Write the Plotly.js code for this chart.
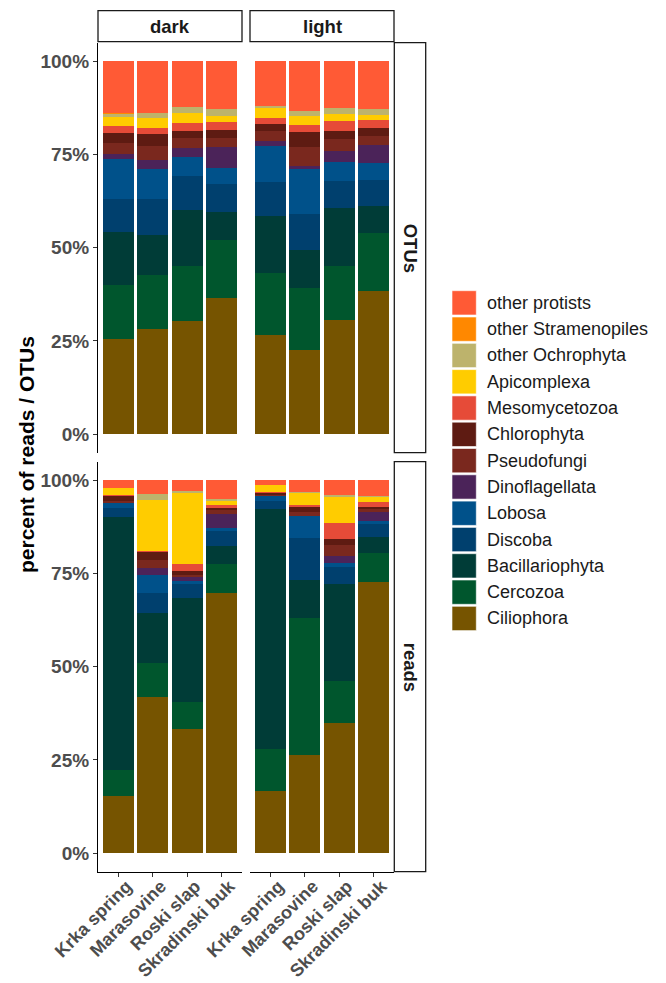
<!DOCTYPE html>
<html>
<head>
<meta charset="utf-8">
<script src="https://cdn.plot.ly/plotly-3.0.1.min.js"></script>
<style>html,body{margin:0;padding:0;background:#fff;}#chart{width:666px;height:983px;}</style>
</head>
<body>
<div id="chart"></div>
<script>
// Sites (x categories)
const sites = ['Krka spring', 'Marasovine', 'Roski slap', 'Skradinski buk'];
// Taxa, stacked bottom -> top
const taxa = ['Ciliophora', 'Cercozoa', 'Bacillariophyta', 'Discoba', 'Lobosa', 'Dinoflagellata',
  'Pseudofungi', 'Chlorophyta', 'Mesomycetozoa', 'Apicomplexa', 'other Ochrophyta',
  'other Stramenopiles', 'other protists'];
const taxaColors = ['#765400', '#00562D', '#003C37', '#00406E', '#00518A', '#4B2359',
  '#7A281E', '#5E1B12', '#E64B38', '#FFCC00', '#BDB36C', '#FF8800', '#FF5A35'];
const facetCols = ['dark', 'light'];
const facetRows = ['OTUs', 'reads'];
const yTicks = [0, 25, 50, 75, 100];

// percent values, rows = taxa (bottom -> top), columns = sites
const otusDark = [
  [25.5, 28.2, 30.3, 36.5],
  [14.4, 14.6, 14.8, 15.7],
  [14.3, 10.6, 15.0, 7.3],
  [8.8, 9.6, 9.2, 7.6],
  [10.7, 8.0, 5.0, 4.2],
  [1.4, 2.5, 2.4, 5.6],
  [3.0, 3.8, 2.6, 2.6],
  [2.8, 3.2, 1.9, 2.0],
  [1.7, 1.7, 2.3, 2.2],
  [2.5, 2.5, 2.6, 1.6],
  [0.9, 1.4, 1.6, 1.8],
  [0.1, 0.1, 0.1, 0.1],
  [13.9, 13.8, 12.2, 12.8]
];
const otusLight = [
  [26.5, 22.6, 30.7, 38.4],
  [16.8, 16.5, 14.3, 15.6],
  [15.1, 10.3, 15.6, 7.3],
  [9.1, 9.7, 7.3, 6.9],
  [9.7, 11.9, 5.2, 4.4],
  [1.5, 1.0, 2.8, 4.9],
  [2.6, 5.0, 3.3, 2.5],
  [2.0, 4.1, 2.2, 2.1],
  [1.5, 1.7, 2.5, 2.2],
  [2.7, 2.6, 2.1, 1.2],
  [0.5, 1.3, 1.4, 1.6],
  [0.1, 0.1, 0.1, 0.1],
  [11.9, 13.2, 12.5, 12.8]
];
const readsDark = [
  [15.4, 41.9, 33.3, 69.7],
  [6.9, 9.1, 7.1, 7.9],
  [67.9, 13.4, 28.1, 4.7],
  [2.4, 5.5, 3.6, 4.0],
  [1.2, 4.6, 1.0, 0.8],
  [0.2, 2.0, 0.9, 3.8],
  [0.4, 2.2, 0.6, 1.2],
  [1.4, 2.1, 1.1, 0.4],
  [0.4, 0.3, 1.8, 0.9],
  [1.8, 13.6, 19.0, 1.1],
  [0.0, 1.7, 0.6, 0.6],
  [0.0, 0.0, 0.0, 0.0],
  [2.0, 3.6, 2.9, 4.9]
];
const readsLight = [
  [16.7, 26.3, 34.9, 72.6],
  [11.2, 36.9, 11.2, 7.9],
  [64.3, 10.0, 26.0, 4.2],
  [2.2, 11.3, 4.6, 3.7],
  [1.3, 5.9, 1.1, 0.8],
  [0.1, 0.1, 1.8, 2.3],
  [0.4, 1.1, 3.1, 0.8],
  [0.4, 1.3, 1.6, 0.6],
  [0.2, 0.4, 4.2, 1.3],
  [2.0, 3.4, 7.1, 1.2],
  [0.0, 0.1, 0.5, 0.5],
  [0.0, 0.0, 0.0, 0.0],
  [1.2, 3.2, 3.9, 4.1]
];

// ---- layout geometry (pixels) ----
const W = 666, H = 983;
const px = v => v / W;
const py = v => 1 - v / H;
const colX = [[98, 242], [250, 394]];
const rowY = [[42.7, 452.7], [461.7, 871.7]];

const panels = [
  {data: otusDark, xa: 'x', ya: 'y'},
  {data: otusLight, xa: 'x2', ya: 'y'},
  {data: readsDark, xa: 'x', ya: 'y2'},
  {data: readsLight, xa: 'x2', ya: 'y2'}
];

const traces = [];
panels.forEach((p, pi) => {
  taxa.forEach((t, ti) => {
    traces.push({
      type: 'bar',
      name: t,
      x: sites,
      y: p.data[ti],
      xaxis: p.xa,
      yaxis: p.ya,
      marker: {color: taxaColors[ti], line: {width: 0}},
      showlegend: false,
      hovertemplate: t + ': %{y}%<extra></extra>'
    });
  });
});

const FAM = 'Liberation Sans, Arial, sans-serif';
const yTickFont = {family: FAM, size: 19, color: '#4D4D4D', weight: 'bold'};
const xTickFont = {family: FAM, size: 18, color: '#4D4D4D', weight: 'bold'};

function xAxis(ci) {
  return {
    domain: [px(colX[ci][0]), px(colX[ci][1])],
    anchor: 'y2',
    type: 'category',
    categoryorder: 'array',
    categoryarray: sites,
    range: [-0.6, 3.6],
    showgrid: false,
    zeroline: false,
    showline: true,
    linecolor: '#000',
    linewidth: 1.1,
    ticks: 'outside',
    ticklen: 4,
    tickwidth: 1.1,
    tickcolor: '#333',
    tickangle: -45,
    tickfont: xTickFont,
    ticklabelshift: 8,
    ticklabelstandoff: -8,
    fixedrange: true
  };
}
function yAxis(ri) {
  return {
    domain: [py(rowY[ri][1]), py(rowY[ri][0])],
    anchor: 'x',
    range: [-5, 105],
    tickvals: yTicks,
    ticktext: yTicks.map(v => v + '%'),
    showgrid: false,
    zeroline: false,
    showline: true,
    linecolor: '#000',
    linewidth: 1.1,
    ticks: 'outside',
    ticklen: 4,
    tickwidth: 1.1,
    tickcolor: '#333',
    tickfont: yTickFont,
    fixedrange: true
  };
}

const shapes = [];
const annotations = [];
const stripFont = {family: FAM, size: 18.5, color: '#1A1A1A', weight: 'bold'};

// top strips
facetCols.forEach((c, ci) => {
  shapes.push({type: 'rect', xref: 'paper', yref: 'paper',
    x0: px(colX[ci][0]), x1: px(colX[ci][1]), y0: py(41.7), y1: py(10.7),
    line: {color: '#1A1A1A', width: 1.3}, fillcolor: '#fff'});
  annotations.push({xref: 'paper', yref: 'paper', x: px((colX[ci][0] + colX[ci][1]) / 2), y: py(26.2),
    text: c, showarrow: false, xanchor: 'center', yanchor: 'middle', font: stripFont});
});
// right strips
facetRows.forEach((r, ri) => {
  shapes.push({type: 'rect', xref: 'paper', yref: 'paper',
    x0: px(394.3), x1: px(425.7), y0: py(rowY[ri][1]), y1: py(rowY[ri][0]),
    line: {color: '#1A1A1A', width: 1.3}, fillcolor: '#fff'});
  annotations.push({xref: 'paper', yref: 'paper', x: px(410), y: py((rowY[ri][0] + rowY[ri][1]) / 2),
    text: r, showarrow: false, textangle: 90, xanchor: 'center', yanchor: 'middle', font: stripFont});
});
// y-axis title
annotations.push({xref: 'paper', yref: 'paper', x: px(26), y: py(455),
  text: 'percent of reads / OTUs', showarrow: false, textangle: -90,
  xanchor: 'center', yanchor: 'middle',
  font: {family: FAM, size: 21, color: '#000', weight: 'bold'}});

// legend (top entry = last taxon)
const legTop = 290.7, legStep = 26.3, keySize = 24.3, keyX = 452;
for (let i = 0; i < taxa.length; i++) {
  const ti = taxa.length - 1 - i;
  const y0 = legTop + i * legStep;
  shapes.push({type: 'rect', xref: 'paper', yref: 'paper',
    x0: px(keyX), x1: px(keyX + keySize), y0: py(y0 + keySize), y1: py(y0),
    line: {color: '#fff', width: 0.6}, fillcolor: taxaColors[ti]});
  annotations.push({xref: 'paper', yref: 'paper', x: px(485), y: py(y0 + keySize / 2),
    text: taxa[ti], showarrow: false, xanchor: 'left', yanchor: 'middle',
    font: {family: FAM, size: 18, color: '#1A1A1A'}});
}

const layout = {
  width: W, height: H,
  margin: {l: 0, r: 0, t: 0, b: 0},
  paper_bgcolor: '#fff',
  plot_bgcolor: '#fff',
  barmode: 'stack',
  bargap: 0.1,
  showlegend: false,
  xaxis: xAxis(0),
  xaxis2: xAxis(1),
  yaxis: yAxis(0),
  yaxis2: yAxis(1),
  shapes: shapes,
  annotations: annotations,
  font: {family: FAM}
};

Plotly.newPlot('chart', traces, layout, {displayModeBar: false, staticPlot: true});
</script>
</body>
</html>
